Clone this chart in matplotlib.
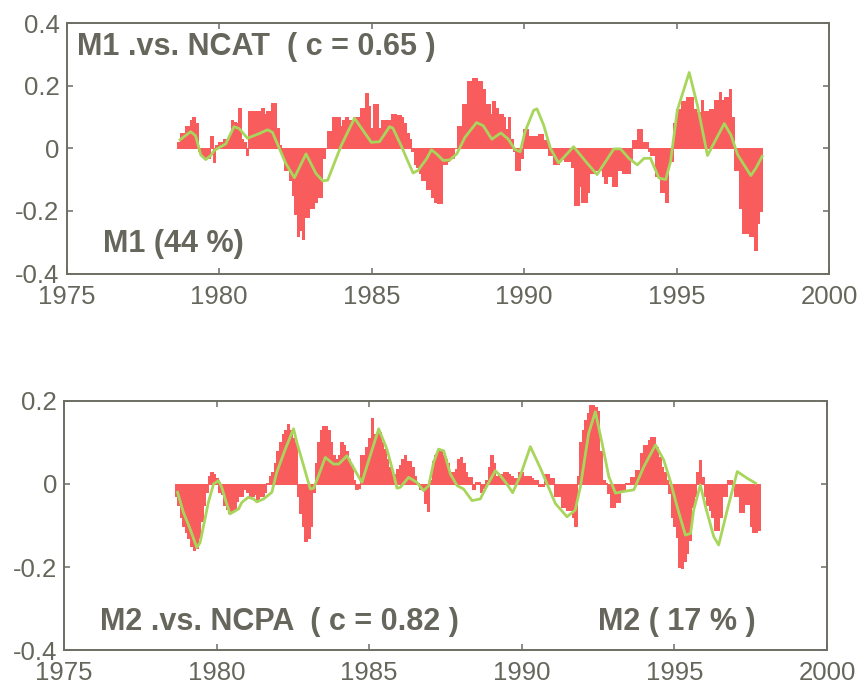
import numpy as np
import matplotlib
matplotlib.use("Agg")
import matplotlib.pyplot as plt

# ---------------- data ----------------
start_year = 1978.67  # centre of first monthly bar

m1_bars = [
    0.02, 0.05, 0.05, 0.07, 0.07, 0.09, 0.10, 0.08, -0.01, -0.02,
    -0.03, -0.03, -0.03, 0.04, -0.045, 0.01, 0.02, 0.02, 0.03, 0.03,
    0.04, 0.09, 0.085, 0.08, 0.13, 0.03, 0.02, -0.02, 0.12, 0.12,
    0.12, 0.12, 0.12, 0.13, 0.11, 0.12, 0.12, 0.145, 0.145, 0.065,
    0.01, -0.02, -0.07, -0.07, -0.10, -0.15, -0.21, -0.28, -0.26, -0.29,
    -0.22, -0.22, -0.19, -0.19, -0.17, -0.155, -0.155, -0.03, 0.00, 0.055,
    0.055, 0.10, 0.10, 0.10, 0.07, 0.09, 0.10, 0.09, 0.09, 0.10,
    0.10, 0.10, 0.13, 0.13, 0.175, 0.135, 0.065, 0.14, 0.14, 0.065,
    0.09, 0.09, 0.09, 0.09, 0.11, 0.11, 0.105, 0.105, 0.10, 0.08,
    0.05, 0.03, -0.01, -0.05, -0.06, -0.08, -0.10, -0.10, -0.13, -0.13,
    -0.155, -0.17, -0.175, -0.175, -0.05, -0.05, -0.04, -0.03, -0.03, 0.00,
    0.07, 0.07, 0.14, 0.14, 0.215, 0.215, 0.225, 0.225, 0.215, 0.215,
    0.19, 0.14, 0.14, 0.11, 0.15, 0.13, 0.11, 0.11, 0.10, 0.06,
    0.10, 0.03, -0.01, -0.07, -0.07, -0.03, 0.06, 0.06, 0.04, 0.04,
    0.04, 0.04, 0.045, 0.045, 0.025, 0.025, -0.02, -0.02, -0.05, -0.05,
    -0.04, -0.035, -0.04, -0.04, -0.04, -0.06, -0.18, -0.18, -0.12, -0.17,
    -0.17, -0.14, -0.08, -0.08, -0.07, -0.07, -0.07, -0.09, -0.11, -0.09,
    -0.09, -0.12, -0.12, -0.07, -0.07, -0.08, -0.08, -0.08, -0.04, 0.025,
    0.025, 0.06, 0.06, 0.02, 0.02, -0.01, -0.02, -0.02, -0.09, -0.09,
    -0.14, -0.14, -0.17, -0.04, -0.04, 0.08, 0.125, 0.125, 0.15, 0.15,
    0.165, 0.165, 0.165, 0.125, 0.115, 0.115, 0.155, 0.12, 0.12, 0.125,
    0.125, 0.155, 0.155, 0.18, 0.155, 0.165, 0.165, 0.19, 0.10, -0.07,
    -0.07, -0.19, -0.27, -0.27, -0.27, -0.28, -0.28, -0.325, -0.24, -0.20,
]

ncat_years = [
    1978.72, 1979.07, 1979.23, 1979.40, 1979.56, 1979.73, 1979.84, 1980.22,
    1980.49, 1980.66, 1980.93, 1981.32, 1981.59, 1981.75, 1981.97, 1982.19,
    1982.47, 1982.85, 1983.18, 1983.40, 1983.56, 1984.00, 1984.44, 1984.99,
    1985.26, 1985.59, 1985.70, 1985.97, 1986.20, 1986.36, 1986.52, 1986.80,
    1986.96, 1987.13, 1987.35, 1987.57, 1987.79, 1988.06, 1988.44, 1988.66,
    1988.94, 1989.24, 1989.48, 1989.70, 1989.87, 1990.03, 1990.31, 1990.42,
    1990.64, 1990.86, 1991.13, 1991.62, 1992.06, 1992.39, 1992.94, 1993.16,
    1993.43, 1993.71, 1993.93, 1994.14, 1994.42, 1994.64, 1994.80, 1995.02,
    1995.41, 1995.68, 1996.01, 1996.56, 1996.78, 1997.00, 1997.43, 1997.60,
    1997.80,
]
ncat_vals = [
    0.027, 0.053, 0.040, -0.021, -0.036, -0.023, -0.007, 0.014,
    0.069, 0.063, 0.032, 0.047, 0.059, 0.051, 0.001, -0.049,
    -0.094, -0.018, -0.081, -0.104, -0.102, 0.008, 0.096, 0.019,
    0.021, 0.069, 0.064, 0.008, -0.044, -0.079, -0.071, -0.034,
    -0.005, -0.018, -0.039, -0.037, -0.018, 0.035, 0.082, 0.072,
    0.029, 0.049, 0.029, -0.004, -0.011, 0.053, 0.121, 0.126,
    0.074, 0.000, -0.047, 0.005, -0.047, -0.084, -0.002, -0.002,
    -0.032, -0.053, -0.032, -0.032, -0.095, -0.100, -0.042, 0.121,
    0.242, 0.137, -0.023, 0.079, 0.042, -0.021, -0.087, -0.063,
    -0.026,
]

m2_bars = [
    -0.03, -0.05, -0.08, -0.10, -0.115, -0.13, -0.15, -0.16, -0.155, -0.13,
    -0.09, -0.05, -0.02, 0.02, 0.03, 0.025, 0.015, -0.02, -0.025, -0.05,
    -0.06, -0.07, -0.065, -0.06, -0.04, -0.03, -0.03, -0.012, -0.02, -0.03,
    -0.03, -0.025, -0.04, -0.03, -0.03, -0.02, 0.003, 0.02, 0.03, 0.05,
    0.08, 0.10, 0.12, 0.13, 0.145, 0.13, 0.11, 0.10, -0.03, -0.07,
    -0.10, -0.137, -0.13, -0.10, -0.02, 0.05, 0.10, 0.13, 0.14, 0.14,
    0.13, 0.10, 0.07, 0.06, 0.07, 0.10, 0.095, 0.08, 0.06, 0.045,
    0.01, -0.012, -0.01, 0.07, 0.07, 0.09, 0.11, 0.16, 0.12, 0.115,
    0.125, 0.10, 0.085, 0.06, 0.04, 0.025, 0.025, 0.035, 0.045, 0.06,
    0.07, 0.056, 0.056, 0.04, 0.02, 0.003, -0.012, -0.012, -0.045, -0.065,
    0.01, 0.056, 0.07, 0.085, 0.08, 0.07, 0.06, 0.05, 0.03, 0.03,
    0.035, 0.06, 0.065, 0.05, 0.03, 0.016, 0.016, -0.012, 0.004, 0.004,
    -0.02, -0.01, 0.01, 0.04, 0.07, 0.05, 0.02, 0.025, 0.025, 0.03,
    0.03, 0.025, 0.02, 0.015, 0.015, 0.03, 0.03, 0.02, 0.02, 0.02,
    0.015, 0.01, 0.01, -0.005, -0.005, 0.025, 0.025, 0.014, 0.014, -0.03,
    -0.03, -0.03, -0.055, -0.055, -0.063, -0.063, -0.08, -0.10, 0.02, 0.10,
    0.13, 0.155, 0.17, 0.19, 0.19, 0.185, 0.175, 0.08, 0.01, 0.003,
    -0.022, -0.055, -0.055, -0.043, -0.043, -0.015, -0.015, 0.003, 0.003, 0.018,
    0.018, 0.034, 0.034, 0.074, 0.094, 0.094, 0.106, 0.114, 0.114, 0.09,
    0.066, 0.042, 0.03, 0.01, -0.022, -0.08, -0.10, -0.127, -0.20, -0.203,
    -0.185, -0.167, -0.135, -0.055, -0.03, 0.03, 0.058, 0.018, -0.03, -0.05,
    -0.063, -0.08, -0.11, -0.11, -0.08, -0.03, -0.03, 0.01, 0.01, -0.006,
    -0.03, -0.03, -0.067, -0.067, -0.047, -0.047, -0.10, -0.115, -0.115, -0.11,
]

ncpa_years = [
    1978.72, 1978.91, 1979.13, 1979.35, 1979.46, 1979.73, 1979.90, 1980.06,
    1980.17, 1980.28, 1980.44, 1980.72, 1980.83, 1981.04, 1981.21, 1981.32,
    1981.54, 1981.81, 1981.97, 1982.25, 1982.52, 1982.63, 1982.85, 1983.07,
    1983.18, 1983.34, 1983.56, 1983.83, 1984.00, 1984.27, 1984.54, 1984.76,
    1984.98, 1985.31, 1985.58, 1985.80, 1985.91, 1986.02, 1986.29, 1986.56,
    1986.78, 1986.95, 1987.11, 1987.27, 1987.44, 1987.66, 1987.88, 1988.09,
    1988.37, 1988.64, 1988.86, 1989.13, 1989.30, 1989.51, 1989.70, 1989.95,
    1990.28, 1990.61, 1991.10, 1991.48, 1991.75, 1991.92, 1992.19, 1992.41,
    1992.63, 1992.85, 1993.07, 1993.34, 1993.67, 1994.00, 1994.38, 1994.65,
    1994.87, 1995.09, 1995.36, 1995.53, 1995.63, 1995.85, 1996.02, 1996.29,
    1996.45, 1996.73, 1997.06, 1997.38, 1997.66,
]
ncpa_vals = [
    -0.020, -0.068, -0.108, -0.153, -0.141, -0.044, 0.000, 0.008,
    -0.008, -0.036, -0.072, -0.060, -0.044, -0.032, -0.036, -0.043,
    -0.036, -0.020, 0.028, 0.084, 0.133, 0.100, 0.044, -0.012,
    -0.010, 0.020, 0.064, 0.048, 0.048, 0.068, 0.032, 0.004,
    0.056, 0.133, 0.084, 0.024, -0.010, -0.008, 0.016, 0.004,
    -0.016, -0.004, 0.052, 0.084, 0.080, 0.024, -0.004, -0.012,
    -0.040, -0.036, -0.004, 0.032, 0.020, 0.000, -0.021, 0.020,
    0.090, 0.038, -0.047, -0.079, -0.063, -0.006, 0.122, 0.174,
    0.098, 0.018, -0.022, -0.018, -0.014, 0.042, 0.094, 0.058,
    0.006, -0.055, -0.123, -0.119, -0.063, -0.002, -0.055, -0.127,
    -0.147, -0.063, 0.030, 0.014, 0.002,
]

xticks = [1975, 1980, 1985, 1990, 1995, 2000]
top_yticks = [-0.4, -0.2, 0, 0.2, 0.4]
bot_yticks = [-0.4, -0.2, 0, 0.2]

# ---------------- style ----------------
BAR = "#f85c5c"
LINE = "#a8d65c"
AX = "#6e6e64"
TXT = "#66665c"
plt.rcParams["font.family"] = ["Liberation Sans", "DejaVu Sans"]

fig = plt.figure(figsize=(8.57, 6.89), dpi=100)
ax1 = fig.add_axes([0.0776, 0.603, 0.890, 0.3636])
ax2 = fig.add_axes([0.0747, 0.0566, 0.8903, 0.3614])


def style(ax, yticks, ylim):
    ax.set_xlim(1975, 2000)
    ax.set_ylim(*ylim)
    ax.set_xticks(xticks)
    ax.set_yticks(yticks)
    ax.set_xticklabels([str(t) for t in xticks])
    ax.set_yticklabels(["0" if t == 0 else f"{t:g}" for t in yticks])
    for s in ax.spines.values():
        s.set_color(AX)
        s.set_linewidth(1.4)
    ax.tick_params(direction="in", length=4, width=1.1, color=AX,
                   labelcolor=TXT, labelsize=18.5, top=True, right=True)
    ax.tick_params(axis="x", pad=8)
    ax.tick_params(axis="y", pad=5)


x1 = start_year + np.arange(len(m1_bars)) / 12.0
ax1.bar(x1, m1_bars, width=1 / 12.0, color=BAR, edgecolor=BAR,
        linewidth=0.6, antialiased=False, zorder=2)
ax1.plot(ncat_years, ncat_vals, color=LINE, linewidth=2.0, zorder=3)
style(ax1, top_yticks, (-0.4, 0.4))
ax1.text(0.0138, 0.872, "M1 .vs. NCAT  ( c = 0.65 )", transform=ax1.transAxes,
         fontsize=22, fontweight="bold", color=TXT, va="baseline", ha="left")
ax1.text(0.048, 0.087, "M1 (44 %)", transform=ax1.transAxes,
         fontsize=22, fontweight="bold", color=TXT, va="baseline", ha="left")

x2 = start_year + np.arange(len(m2_bars)) / 12.0
ax2.bar(x2, m2_bars, width=1 / 12.0, color=BAR, edgecolor=BAR,
        linewidth=0.6, antialiased=False, zorder=2)
ax2.plot(ncpa_years, ncpa_vals, color=LINE, linewidth=2.0, zorder=3)
style(ax2, bot_yticks, (-0.4, 0.2))
ax2.text(0.047, 0.08, "M2 .vs. NCPA  ( c = 0.82 )", transform=ax2.transAxes,
         fontsize=22, fontweight="bold", color=TXT, va="baseline", ha="left")
ax2.text(0.70, 0.08, "M2 ( 17 % )", transform=ax2.transAxes,
         fontsize=22, fontweight="bold", color=TXT, va="baseline", ha="left")

fig.savefig("out.png", dpi=100, facecolor="white")
